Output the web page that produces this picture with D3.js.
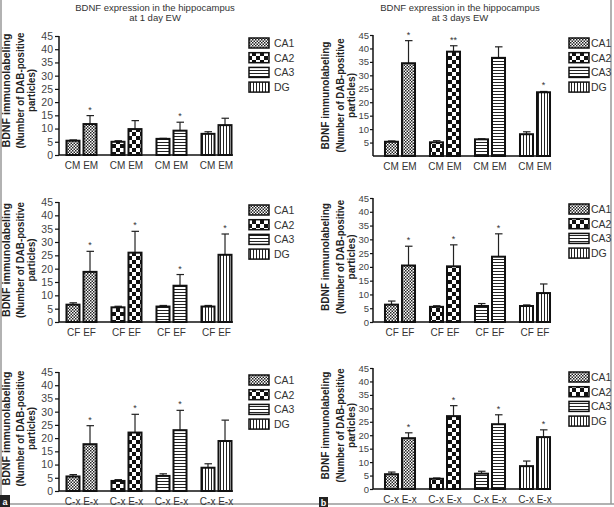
<!DOCTYPE html>
<html><head><meta charset="utf-8">
<script src="https://cdn.jsdelivr.net/npm/d3@7"></script>
<style>
html,body{margin:0;padding:0;background:#fff;}
svg{display:block;font-family:"Liberation Sans",Arial,sans-serif;}
</style></head>
<body>
<svg id="chart" width="614" height="507"></svg>
<script>
// ---------------- DATA ----------------
const regions = ["CA1", "CA2", "CA3", "DG"];
const titles = ["BDNF expression in the hippocampus|at 1 day EW", "BDNF expression in the hippocampus|at 3 days EW"];
const yTitle = ["BDNF immunolabeling", "(Number of DAB-positive", "particles)"];
const yTicks = [0, 5, 10, 15, 20, 25, 30, 35, 40, 45];
// panel order: 1d CM/EM, 3d CM/EM, 1d CF/EF, 3d CF/EF, 1d C-x/E-x, 3d C-x/E-x
const groupLabels = [["CM", "EM"], ["CM", "EM"], ["CF", "EF"], ["CF", "EF"], ["C-x", "E-x"], ["C-x", "E-x"]];
const ctrlMeans = [
  [5.4, 5.0, 6.1, 8.0],
  [5.3, 5.1, 6.2, 8.1],
  [6.5, 5.5, 5.8, 5.8],
  [6.3, 5.5, 5.8, 5.8],
  [5.5, 3.8, 5.7, 8.8],
  [5.5, 3.8, 5.7, 8.5]
];
const ctrlSem = [
  [0.3, 0.4, 0.2, 0.8],
  [0.3, 0.6, 0.2, 0.9],
  [0.7, 0.4, 0.4, 0.4],
  [1.3, 0.4, 0.9, 0.4],
  [0.7, 0.5, 0.8, 1.5],
  [0.8, 0.3, 0.9, 1.9]
];
const expMeans = [
  [11.7, 9.8, 9.2, 11.3],
  [34.5, 38.8, 36.5, 23.7],
  [18.8, 26.0, 13.6, 25.2],
  [20.5, 20.2, 23.7, 10.5],
  [17.7, 22.1, 23.0, 18.9],
  [18.9, 27.1, 24.1, 19.3]
];
const expSem = [
  [3.2, 3.2, 3.2, 2.6],
  [8.4, 2.2, 4.1, 0.3],
  [7.7, 8.0, 4.2, 7.8],
  [7.0, 7.8, 8.3, 3.3],
  [7.0, 6.9, 7.5, 7.9],
  [2.0, 3.9, 3.5, 2.7]
];
const expStars = [
  ["*", "", "*", ""],
  ["*", "**", "", "*"],
  ["*", "*", "*", "*"],
  ["*", "*", "*", ""],
  ["*", "*", "*", ""],
  ["*", "*", "*", "*"]
];
const panelLetters = ["a", "b"];

// ---------------- LAYOUT ----------------
const leftTitle = {x: [10, 23.5, 35], len: [114, 116, 43]};
const rightTitle = {x: [329, 343.5, 354.5], len: [108, 114, 45]};
const leftTick = {size: 4, pad: 2, font: 10.5};
const rightTick = {size: 3, pad: 1, font: 9.5};
const layout = [
  {ax: 59,  y0: 155, yTop: 36,  band0: 59,    legX: 249, legY: 43,  legText: 274, t: leftTitle,  k: leftTick,  dy: -5, showZero: true},
  {ax: 373, y0: 156, yTop: 35,  band0: 377.5, legX: 569, legY: 43,  legText: 591, t: rightTitle, k: rightTick, dy: 0,  showZero: false},
  {ax: 59,  y0: 322, yTop: 202, band0: 59,    legX: 249, legY: 210, legText: 274, t: leftTitle,  k: leftTick,  dy: -2, showZero: true},
  {ax: 373, y0: 322, yTop: 198, band0: 377.5, legX: 569, legY: 209, legText: 591, t: rightTitle, k: rightTick, dy: -3, showZero: true},
  {ax: 59,  y0: 491, yTop: 372, band0: 59,    legX: 249, legY: 380, legText: 274, t: leftTitle,  k: leftTick,  dy: -3, showZero: true},
  {ax: 373, y0: 489, yTop: 368, band0: 377.5, legX: 569, legY: 377, legText: 591, t: rightTitle, k: rightTick, dy: -3, showZero: true}
];

const svg = d3.select("#chart");
const defs = svg.append("defs");

// patterns
const pCA1 = defs.append("pattern").attr("id", "pCA1").attr("patternUnits", "userSpaceOnUse").attr("width", 3).attr("height", 3);
pCA1.append("rect").attr("width", 3).attr("height", 3).attr("fill", "#fff");
pCA1.append("rect").attr("width", 1.5).attr("height", 1.5).attr("fill", "#222");
pCA1.append("rect").attr("x", 1.5).attr("y", 1.5).attr("width", 1.5).attr("height", 1.5).attr("fill", "#222");
const pCA2 = defs.append("pattern").attr("id", "pCA2").attr("patternUnits", "userSpaceOnUse").attr("width", 8).attr("height", 8);
pCA2.append("rect").attr("width", 8).attr("height", 8).attr("fill", "#fff");
pCA2.append("rect").attr("width", 4).attr("height", 4).attr("fill", "#111");
pCA2.append("rect").attr("x", 4).attr("y", 4).attr("width", 4).attr("height", 4).attr("fill", "#111");
const pCA3 = defs.append("pattern").attr("id", "pCA3").attr("patternUnits", "userSpaceOnUse").attr("width", 4).attr("height", 3);
pCA3.append("rect").attr("width", 4).attr("height", 3).attr("fill", "#fff");
pCA3.append("rect").attr("y", 1).attr("width", 4).attr("height", 1).attr("fill", "#222");
const pDG = defs.append("pattern").attr("id", "pDG").attr("patternUnits", "userSpaceOnUse").attr("width", 3).attr("height", 4);
pDG.append("rect").attr("width", 3).attr("height", 4).attr("fill", "#fff");
pDG.append("rect").attr("x", 1).attr("width", 1).attr("height", 4).attr("fill", "#222");
const fills = {CA1: "url(#pCA1)", CA2: "url(#pCA2)", CA3: "url(#pCA3)", DG: "url(#pDG)"};

// frame
svg.append("line").attr("x1", 1).attr("x2", 1).attr("y1", 0).attr("y2", 504).attr("stroke", "#999").attr("stroke-width", 1.5);
svg.append("line").attr("x1", 611).attr("x2", 611).attr("y1", 0).attr("y2", 504).attr("stroke", "#999").attr("stroke-width", 1.5);
svg.append("line").attr("x1", 0).attr("x2", 614).attr("y1", 504).attr("y2", 504).attr("stroke", "#999").attr("stroke-width", 1.5);

// titles
[155, 460].forEach((cx, i) => {
  const lines = titles[i].split("|");
  lines.forEach((t, j) => {
    svg.append("text").attr("x", cx).attr("y", 11 + j * 10).attr("text-anchor", "middle")
      .attr("font-size", 9.5).attr("fill", "#333").text(t);
  });
});

layout.forEach((L, p) => {
  const g = svg.append("g");
  const y = d3.scaleLinear().domain([0, 45]).range([L.y0, L.yTop]);
  const gx = d3.scaleBand().domain(regions).range([L.band0, L.band0 + 180]).padding(0);
  const bx = d3.scaleBand().domain(groupLabels[p]).range([0, gx.bandwidth()]).paddingInner(0.235).paddingOuter(0.44);

  // y axis
  const axis = d3.axisLeft(y).tickValues(L.showZero ? yTicks : yTicks.slice(1)).tickSize(L.k.size).tickPadding(L.k.pad);
  const ag = g.append("g").attr("transform", `translate(${L.ax},0)`).call(axis);
  ag.select(".domain").remove();
  ag.append("line").attr("x1", 0).attr("x2", 0).attr("y1", L.y0).attr("y2", L.yTop).attr("stroke", "#111").attr("stroke-width", 1.5);
  ag.selectAll(".tick line").attr("stroke", "#111").attr("stroke-width", 1.2);
  ag.selectAll(".tick text").attr("fill", "#444").attr("font-size", L.k.font).attr("font-family", "Liberation Sans, Arial, sans-serif");
  // x baseline
  g.append("line").attr("x1", L.ax).attr("x2", L.ax + 174).attr("y1", L.y0).attr("y2", L.y0).attr("stroke", "#111").attr("stroke-width", 1.5);

  // y title
  const yc = (L.y0 + L.yTop) / 2 + L.dy;
  yTitle.forEach((t, j) => {
    g.append("text").attr("transform", `translate(${L.t.x[j]},${yc}) rotate(-90)`)
      .attr("text-anchor", "middle")
      .attr("textLength", L.t.len[j]).attr("lengthAdjust", "spacingAndGlyphs")
      .attr("font-size", 10.5).attr("font-weight", "bold").attr("fill", "#222").text(t);
  });

  // bars
  regions.forEach((r, i) => {
    const gxp = gx(r);
    const bars = [
      {k: groupLabels[p][0], m: ctrlMeans[p][i], s: ctrlSem[p][i], star: ""},
      {k: groupLabels[p][1], m: expMeans[p][i], s: expSem[p][i], star: expStars[p][i]}
    ];
    bars.forEach(b => {
      const x0 = gxp + bx(b.k), w = bx.bandwidth(), cx = x0 + w / 2;
      g.append("line").attr("x1", cx).attr("x2", cx).attr("y1", y(b.m)).attr("y2", y(b.m + b.s)).attr("stroke", "#222").attr("stroke-width", 1.2);
      g.append("line").attr("x1", cx - 3.5).attr("x2", cx + 4).attr("y1", y(b.m + b.s)).attr("y2", y(b.m + b.s)).attr("stroke", "#222").attr("stroke-width", 1.2);
      g.append("rect").attr("x", x0).attr("y", y(b.m)).attr("width", w).attr("height", y(0) - y(b.m))
        .attr("fill", fills[r]).attr("stroke", "#111").attr("stroke-width", 2);
      if (b.star) {
        g.append("text").attr("x", cx).attr("y", y(b.m + b.s) - 3).attr("text-anchor", "middle")
          .attr("font-size", 9).attr("fill", "#333").text(b.star);
      }
    });
    // category label
    g.append("text").attr("x", gxp + gx.bandwidth() / 2).attr("y", L.y0 + 14).attr("text-anchor", "middle")
      .attr("font-size", 10).attr("fill", "#333").text(groupLabels[p].join(" "));
  });

  // legend
  regions.forEach((r, i) => {
    const ly = L.legY + i * 14.7;
    g.append("rect").attr("x", L.legX).attr("y", ly - 5).attr("width", 20).attr("height", 10)
      .attr("fill", fills[r]).attr("stroke", "#111").attr("stroke-width", 1.5);
    g.append("text").attr("x", L.legText).attr("y", ly).attr("dominant-baseline", "central")
      .attr("font-size", 10.5).attr("fill", "#333").text(r);
  });
});

// panel letters
[[0, 495, 10, 12], [319, 497, 9, 10]].forEach((b, i) => {
  svg.append("rect").attr("x", b[0]).attr("y", b[1]).attr("width", b[2]).attr("height", b[3]).attr("fill", "#222");
  svg.append("text").attr("x", b[0] + b[2] / 2).attr("y", b[1] + b[3] / 2 + 0.5).attr("text-anchor", "middle")
    .attr("dominant-baseline", "central").attr("font-size", 9).attr("font-weight", "bold").attr("fill", "#fff").text(panelLetters[i]);
});
</script>
</body></html>
